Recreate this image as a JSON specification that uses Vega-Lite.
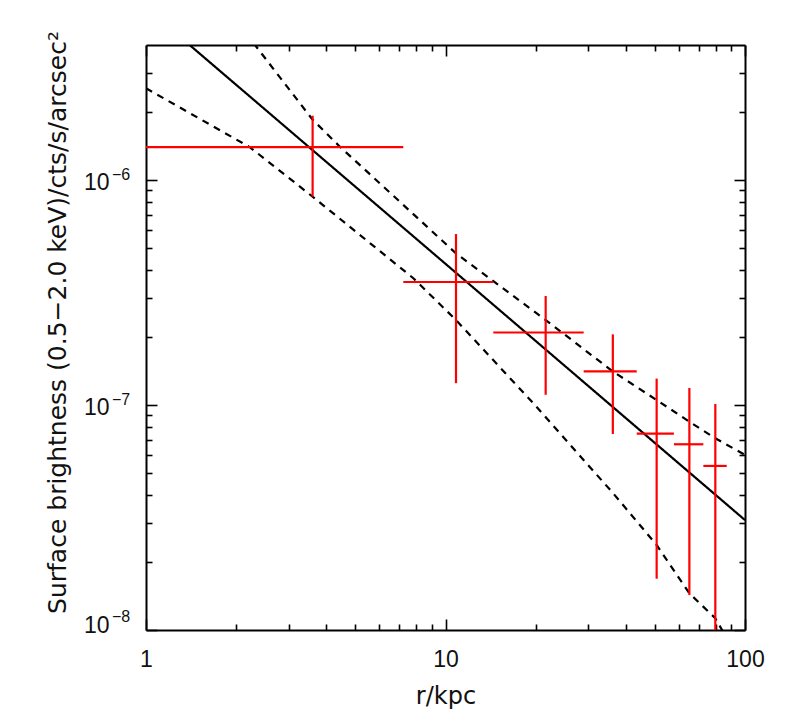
{
  "$schema": "https://vega.github.io/schema/vega-lite/v6.json",
  "width": 599,
  "height": 585,
  "autosize": "none",
  "padding": {"left": 146, "top": 45, "right": 44, "bottom": 93},
  "background": "white",
  "config": {
    "view": {"stroke": null},
    "axis": {
      "grid": false,
      "domainColor": "black",
      "domainWidth": 2,
      "tickColor": "black",
      "tickWidth": 1.6,
      "labelColor": "#111111",
      "titleColor": "#111111",
      "labelFont": "Liberation Sans",
      "titleFont": "DejaVu Sans",
      "labelFontSize": 23,
      "titleFontSize": 24,
      "titleFontWeight": "normal",
      "labelOverlap": false,
      "labelFlush": false
    }
  },
  "datasets": {
    "pts": [
      {"r": 3.60, "r_lo": 1.0, "r_hi": 7.23, "sb": 1.40e-6, "sb_lo": 8.43e-7, "sb_hi": 1.93e-6},
      {"r": 10.84, "r_lo": 7.23, "r_hi": 14.44, "sb": 3.52e-7, "sb_lo": 1.25e-7, "sb_hi": 5.75e-7},
      {"r": 21.6, "r_lo": 14.44, "r_hi": 28.93, "sb": 2.10e-7, "sb_lo": 1.11e-7, "sb_hi": 3.05e-7},
      {"r": 36.2, "r_lo": 28.93, "r_hi": 43.5, "sb": 1.41e-7, "sb_lo": 7.43e-8, "sb_hi": 2.06e-7},
      {"r": 50.7, "r_lo": 43.5, "r_hi": 57.9, "sb": 7.46e-8, "sb_lo": 1.69e-8, "sb_hi": 1.31e-7},
      {"r": 65.2, "r_lo": 57.9, "r_hi": 72.6, "sb": 6.69e-8, "sb_lo": 1.43e-8, "sb_hi": 1.19e-7},
      {"r": 79.6, "r_lo": 72.6, "r_hi": 86.9, "sb": 5.36e-8, "sb_lo": 5e-9, "sb_hi": 1.01e-7}
    ],
    "curves": [
      {"curve": "model", "r": 1, "sb": 5.83e-6},
      {"curve": "model", "r": 10, "sb": 4.24e-7},
      {"curve": "model", "r": 100, "sb": 3.08e-8},
      {"curve": "upper", "r": 1.9, "sb": 5.55e-6},
      {"curve": "upper", "r": 2.312, "sb": 3.98e-6},
      {"curve": "upper", "r": 3.59, "sb": 1.861e-6},
      {"curve": "upper", "r": 4.44, "sb": 1.406e-6},
      {"curve": "upper", "r": 7.05, "sb": 7.99e-7},
      {"curve": "upper", "r": 10.84, "sb": 4.72e-7},
      {"curve": "upper", "r": 21.6, "sb": 2.386e-7},
      {"curve": "upper", "r": 36.3, "sb": 1.406e-7},
      {"curve": "upper", "r": 50.7, "sb": 1.052e-7},
      {"curve": "upper", "r": 65.2, "sb": 8.43e-8},
      {"curve": "upper", "r": 79.6, "sb": 7.11e-8},
      {"curve": "upper", "r": 100, "sb": 6.0e-8},
      {"curve": "lower", "r": 1, "sb": 2.556e-6},
      {"curve": "lower", "r": 2.225, "sb": 1.397e-6},
      {"curve": "lower", "r": 3.60, "sb": 8.43e-7},
      {"curve": "lower", "r": 7.81, "sb": 3.66e-7},
      {"curve": "lower", "r": 10.84, "sb": 2.386e-7},
      {"curve": "lower", "r": 19.64, "sb": 1.018e-7},
      {"curve": "lower", "r": 36.3, "sb": 4.05e-8},
      {"curve": "lower", "r": 50.7, "sb": 2.386e-8},
      {"curve": "lower", "r": 65.2, "sb": 1.456e-8},
      {"curve": "lower", "r": 79.6, "sb": 1.127e-8},
      {"curve": "lower", "r": 85.7, "sb": 9.5e-9}
    ],
    "exps": [
      {"sb": 1e-6, "e": "−6"},
      {"sb": 1e-7, "e": "−7"},
      {"sb": 1e-8, "e": "−8"}
    ]
  },
  "layer": [
    {
      "layer": [
        {
          "data": {"name": "curves"},
          "mark": {"type": "line", "clip": true, "color": "black", "strokeWidth": 2.2},
          "encoding": {
            "x": {
              "field": "r", "type": "quantitative",
              "scale": {"type": "log", "domain": [1, 100], "nice": false},
              "axis": {
                "orient": "bottom",
                "title": "r/kpc",
                "titlePadding": 8,
                "values": [1,2,3,4,5,6,7,8,9,10,20,30,40,50,60,70,80,90,100],
                "labelExpr": "datum.value==1 ? '1' : datum.value==10 ? '10' : datum.value==100 ? '100' : ''",
                "tickSize": {"condition": {"test": "datum.value==1||datum.value==10||datum.value==100", "value": -11}, "value": -6},
                "labelPadding": 29
              }
            },
            "y": {
              "field": "sb", "type": "quantitative",
              "scale": {"type": "log", "domain": [1e-8, 3.98e-6], "nice": false},
              "axis": {
                "orient": "left",
                "title": "Surface brightness (0.5−2.0 keV)/cts/s/arcsec²",
                "titleFontSize": 25,
                "titleX": -89,
                "titleY": 277,
                "titleBaseline": "middle",
                "titleAlign": "center",
                "values": [1e-8,2e-8,3e-8,4e-8,5e-8,6e-8,7e-8,8e-8,9e-8,1e-7,2e-7,3e-7,4e-7,5e-7,6e-7,7e-7,8e-7,9e-7,1e-6,2e-6,3e-6],
                "labelExpr": "datum.value==1e-6 || datum.value==1e-7 || datum.value==1e-8 ? '10' : ''",
                "tickSize": {"condition": {"test": "datum.value==1e-6||datum.value==1e-7||datum.value==1e-8", "value": -11}, "value": -6},
                "labelPadding": 48,
                "labelBaseline": "alphabetic",
                "labelOffset": {"condition": {"test": "datum.value==1e-8", "value": 2}, "value": 10}
              }
            },
            "strokeDash": {
              "field": "curve", "type": "nominal",
              "scale": {"domain": ["model", "upper", "lower"], "range": [[1, 0], [7, 6], [7, 6]]},
              "legend": null
            }
          }
        },
        {
          "data": {"name": "pts"},
          "mark": {"type": "rule", "clip": true, "color": "#ff0000", "strokeWidth": 2.2},
          "encoding": {
            "x": {"field": "r", "type": "quantitative", "scale": {"type": "log", "domain": [1, 100], "nice": false}},
            "y": {"field": "sb_lo", "type": "quantitative", "scale": {"type": "log", "domain": [1e-8, 3.98e-6], "nice": false}},
            "y2": {"field": "sb_hi"}
          }
        },
        {
          "data": {"name": "pts"},
          "mark": {"type": "rule", "clip": true, "color": "#ff0000", "strokeWidth": 2.2},
          "encoding": {
            "x": {"field": "r_lo", "type": "quantitative", "scale": {"type": "log", "domain": [1, 100], "nice": false}},
            "x2": {"field": "r_hi"},
            "y": {"field": "sb", "type": "quantitative", "scale": {"type": "log", "domain": [1e-8, 3.98e-6], "nice": false}}
          }
        },
        {
          "data": {"name": "exps"},
          "transform": [{"filter": "datum.sb > 5e-8"}],
          "mark": {"type": "text", "font": "Liberation Sans", "fontSize": 16, "color": "#111111", "align": "left", "baseline": "alphabetic", "dx": -34, "dy": 0},
          "encoding": {
            "x": {"datum": 1, "type": "quantitative", "scale": {"type": "log", "domain": [1, 100], "nice": false}},
            "y": {"field": "sb", "type": "quantitative", "scale": {"type": "log", "domain": [1e-8, 3.98e-6], "nice": false}},
            "text": {"field": "e"}
          }
        },
        {
          "data": {"name": "exps"},
          "transform": [{"filter": "datum.sb < 5e-8"}],
          "mark": {"type": "text", "font": "Liberation Sans", "fontSize": 16, "color": "#111111", "align": "left", "baseline": "alphabetic", "dx": -34, "dy": -8},
          "encoding": {
            "x": {"datum": 1, "type": "quantitative", "scale": {"type": "log", "domain": [1, 100], "nice": false}},
            "y": {"field": "sb", "type": "quantitative", "scale": {"type": "log", "domain": [1e-8, 3.98e-6], "nice": false}},
            "text": {"field": "e"}
          }
        }
      ]
    },
    {
      "data": {"name": "curves"},
      "mark": {"type": "point", "opacity": 0, "clip": true},
      "encoding": {
        "x": {
          "field": "r", "type": "quantitative",
          "scale": {"type": "log", "domain": [1, 100], "nice": false},
          "axis": {
            "orient": "top", "title": null, "labels": false,
            "values": [1,2,3,4,5,6,7,8,9,10,20,30,40,50,60,70,80,90,100],
            "tickSize": {"condition": {"test": "datum.value==1||datum.value==10||datum.value==100", "value": -11}, "value": -6}
          }
        },
        "y": {
          "field": "sb", "type": "quantitative",
          "scale": {"type": "log", "domain": [1e-8, 3.98e-6], "nice": false},
          "axis": {
            "orient": "right", "title": null, "labels": false,
            "values": [1e-8,2e-8,3e-8,4e-8,5e-8,6e-8,7e-8,8e-8,9e-8,1e-7,2e-7,3e-7,4e-7,5e-7,6e-7,7e-7,8e-7,9e-7,1e-6,2e-6,3e-6],
            "tickSize": {"condition": {"test": "datum.value==1e-6||datum.value==1e-7||datum.value==1e-8", "value": -11}, "value": -6}
          }
        }
      }
    }
  ],
  "resolve": {"axis": {"x": "independent", "y": "independent"}}
}
